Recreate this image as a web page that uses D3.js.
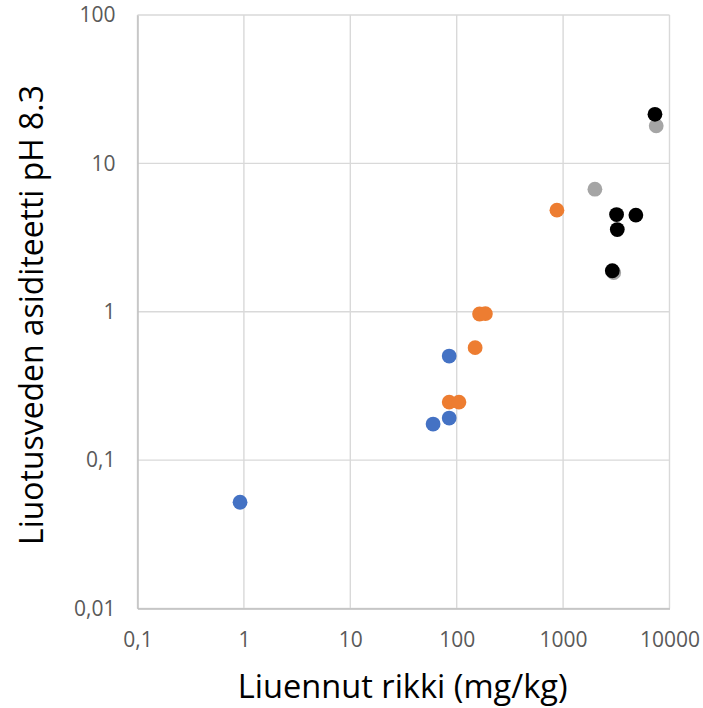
<!DOCTYPE html>
<html><head><meta charset="utf-8">
<script src="https://cdn.jsdelivr.net/npm/d3@7"></script>
<style>html,body{margin:0;padding:0;background:#fff;} svg{display:block;}</style>
</head><body>
<svg id="chart" width="703" height="708"></svg>
<script>
const xTicks = [0.1, 1, 10, 100, 1000, 10000];
const xTickLabels = ["0,1", "1", "10", "100", "1000", "10000"];
const yTicks = [0.01, 0.1, 1, 10, 100];
const yTickLabels = ["0,01", "0,1", "1", "10", "100"];
const xTitle = "Liuennut rikki (mg/kg)";
const yTitle = "Liuotusveden asiditeetti pH 8.3";

const seriesNames = ["blue", "orange", "gray", "black"];
const seriesColors = ["#4472C4", "#ED7D31", "#A5A5A5", "#000000"];
const blueX = [0.92, 60, 85, 85];
const blueY = [0.052, 0.175, 0.192, 0.503];
const orangeX = [85, 105, 149, 164, 186, 875];
const orangeY = [0.246, 0.246, 0.573, 0.966, 0.97, 4.84];
const grayX = [1990, 7500, 2990];
const grayY = [6.7, 17.9, 1.835];
const blackX = [7300, 3180, 4830, 3230, 2900];
const blackY = [21.4, 4.52, 4.48, 3.58, 1.89];

const seriesX = [blueX, orangeX, grayX, blackX];
const seriesY = [blueY, orangeY, grayY, blackY];

const svg = d3.select("#chart");
const mLeft = 137.5, mRight = 669.5, mTop = 15, mBottom = 608.5;
const x = d3.scaleLog().domain([0.1, 10000]).range([mLeft, mRight]);
const y = d3.scaleLog().domain([0.01, 100]).range([mBottom, mTop]);

const font = "'Open Sans', sans-serif";

// gridlines
const grid = svg.append("g");
grid.selectAll("line.v").data(xTicks).join("line").attr("class", "v")
  .attr("x1", d => x(d)).attr("x2", d => x(d))
  .attr("y1", mTop).attr("y2", mBottom)
  .attr("stroke", "#D9D9D9").attr("stroke-width", 1.4);
grid.selectAll("line.h").data(yTicks).join("line").attr("class", "h")
  .attr("x1", mLeft).attr("x2", mRight)
  .attr("y1", d => y(d)).attr("y2", d => y(d))
  .attr("stroke", "#D9D9D9").attr("stroke-width", 1.4);

// axes
const xAxis = d3.axisBottom(x).tickValues(xTicks)
  .tickFormat((d, i) => xTickLabels[i]).tickSize(0).tickPadding(24);
const gx = svg.append("g").attr("transform", `translate(0,${mBottom})`).call(xAxis);
gx.select(".domain").attr("stroke", "#BFBFBF").attr("stroke-width", 1.4);
gx.selectAll("text").attr("font-family", font).attr("font-size", 21).attr("fill", "#595959");

const yAxis = d3.axisLeft(y).tickValues(yTicks)
  .tickFormat((d, i) => yTickLabels[i]).tickSize(0).tickPadding(22);
const gy = svg.append("g").attr("transform", `translate(${mLeft},0)`).call(yAxis);
gy.select(".domain").attr("stroke", "#BFBFBF").attr("stroke-width", 1.4);
gy.selectAll("text").attr("font-family", font).attr("font-size", 21).attr("fill", "#595959");

// points
seriesNames.forEach((name, si) => {
  const pts = seriesX[si].map((v, i) => [v, seriesY[si][i]]);
  svg.append("g").attr("class", name).selectAll("circle").data(pts).join("circle")
    .attr("cx", d => x(d[0])).attr("cy", d => y(d[1]))
    .attr("r", 7.4).attr("fill", seriesColors[si]);
});

// titles
function fitText(sel, target) {
  const w = sel.node().getComputedTextLength();
  const fs = parseFloat(sel.attr("font-size"));
  if (w > 0) sel.attr("font-size", fs * target / w);
}
const xt = svg.append("text").attr("x", 402.7).attr("y", 698)
  .attr("text-anchor", "middle").attr("font-family", font).attr("font-size", 30)
  .attr("fill", "#000").text(xTitle);
fitText(xt, 330);
const yt = svg.append("text").attr("transform", "translate(43,315) rotate(-90)")
  .attr("text-anchor", "middle").attr("font-family", font).attr("font-size", 30)
  .attr("fill", "#000").text(yTitle);
fitText(yt, 460);
</script>
</body></html>
